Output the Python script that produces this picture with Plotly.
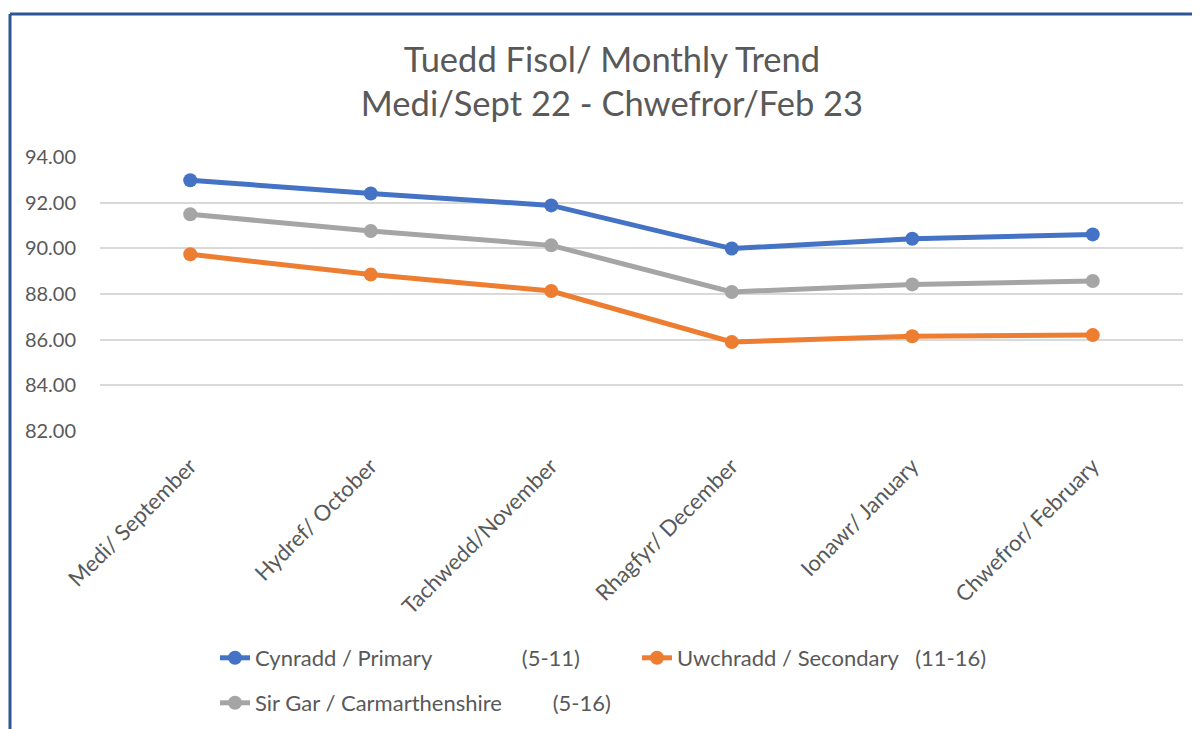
import plotly.graph_objects as go

months = ["Medi/ September", "Hydref/ October", "Tachwedd/November",
          "Rhagfyr/ December", "Ionawr/ January", "Chwefror/ February"]
primary = [92.98, 92.40, 91.88, 89.99, 90.42, 90.61]
secondary = [89.74, 88.85, 88.13, 85.90, 86.15, 86.20]
county = [91.49, 90.76, 90.13, 88.09, 88.42, 88.57]

NB = "\u00a0"
names = [
    "Cynradd / Primary" + NB * 16 + "(5-11)",
    "Uwchradd / Secondary" + NB * 3 + "(11-16)",
    "Sir Gar / Carmarthenshire" + NB * 9 + "(5-16)",
]
colors = ["#4472C4", "#ED7D31", "#A5A5A5"]
series = [primary, secondary, county]
legends = ["legend", "legend", "legend2"]

FONT = "Lato"
fig = go.Figure()
for name, vals, col, lg in zip(names, series, colors, legends):
    fig.add_trace(go.Scatter(
        x=months, y=vals, name=name, mode="lines+markers",
        line=dict(color=col, width=5),
        marker=dict(color=col, size=14),
        legend=lg,
    ))

# page has an 8px body margin; work in figure coordinates
OFF = 8
W, H = 1200 - OFF, 729 - OFF
L, T = 100 - OFF, 157 - OFF
pw, ph = 1083, 274
R, B = W - L - pw, H - T - ph

def px(x):
    return (x - OFF - L) / pw

def py(y):
    return (H - B - (y - OFF)) / ph

legfont = dict(size=22, color="#595959", family=FONT)
fig.update_layout(
    width=W, height=H,
    margin=dict(l=L, r=R, t=T, b=B, autoexpand=False),
    paper_bgcolor="white", plot_bgcolor="white",
    font=dict(family=FONT, color="#595959", size=20),
    title=dict(
        text="Tuedd Fisol/ Monthly Trend<br>Medi/Sept 22 - Chwefror/Feb 23",
        x=(612 - OFF) / W, xanchor="center", xref="container",
        y=1 - (71.5 - OFF) / H, yanchor="middle", yref="container",
        font=dict(family=FONT, size=34.5, color="#595959"),
    ),
    xaxis=dict(
        range=[-0.5, 5.5], automargin=False,
        tickangle=-45, showgrid=False, showline=False, zeroline=False,
        ticks="", ticklabelstandoff=17,
        tickfont=dict(size=22, color="#595959"),
    ),
    yaxis=dict(
        range=[82, 94], dtick=2, tickformat=".2f", automargin=False,
        showgrid=True, gridcolor="#D9D9D9", gridwidth=2,
        showline=False, zeroline=False, ticks="",
        ticklabelstandoff=23,
        tickfont=dict(size=20, color="#595959"),
    ),
    legend=dict(
        orientation="h", x=px(215), xanchor="left", y=py(658), yanchor="middle",
        entrywidth=377, entrywidthmode="pixels",
        font=legfont, bgcolor="rgba(0,0,0,0)",
    ),
    legend2=dict(
        orientation="h", x=px(215), xanchor="left", y=py(703), yanchor="middle",
        entrywidth=377, entrywidthmode="pixels",
        font=legfont, bgcolor="rgba(0,0,0,0)",
    ),
    showlegend=True,
)

border = "#2F5597"
fig.add_shape(type="line", xref="paper", yref="paper",
              x0=px(10), x1=px(1230), y0=py(14), y1=py(14),
              line=dict(color=border, width=3))
fig.add_shape(type="line", xref="paper", yref="paper",
              x0=px(10), x1=px(10), y0=py(14), y1=py(760),
              line=dict(color=border, width=3))

fig.write_html("out.html")
